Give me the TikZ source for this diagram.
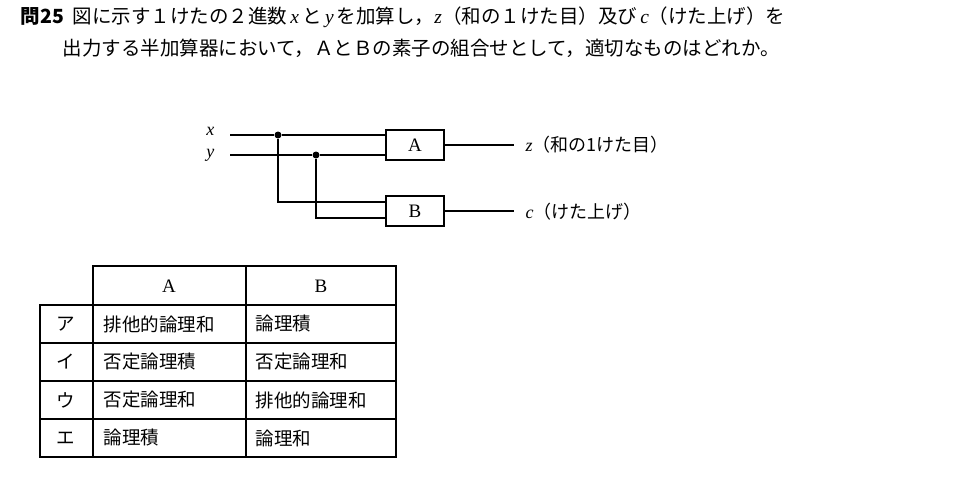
\documentclass[tikz,border=0pt]{standalone}
\usepackage{fontspec}
\usetikzlibrary{calc}
\setmainfont{Liberation Serif}
\newfontfamily\cjk{Noto Sans CJK JP}
\begin{document}
\begin{tikzpicture}[x=1pt,y=-1pt,line width=1.3pt,
  gate/.style={draw,minimum width=58pt,minimum height=30pt,inner sep=0pt,font=\fontsize{19}{19}\selectfont},
  lbl/.style={anchor=west,inner sep=0pt,font=\fontsize{19}{19}\selectfont},
  dot/.style={circle,fill,inner sep=0pt,minimum size=7pt},
  txt/.style={anchor=west,inner sep=0pt,font=\cjk\fontsize{19.5}{19.5}\selectfont},
  cell/.style={anchor=west,inner sep=0pt,font=\cjk\fontsize{18.5}{18.5}\selectfont}]
\useasboundingbox (0,0) rectangle (970,480);
\node[txt] (t1) at (20,17) {\textbf{問25}\ \ 図に示す１けたの２進数\,{\rmfamily\itshape x}\,と\,{\rmfamily\itshape y}\,を加算し，{\rmfamily\itshape z}（和の１けた目）及び\,{\rmfamily\itshape c}（けた上げ）を};
\node[txt] (t2) at (62,48) {出力する半加算器において，ＡとＢの素子の組合せとして，適切なものはどれか。};
% circuit
\node[gate] (A) at (415,145) {A};
\node[gate] (B) at (415,211) {B};
\node[lbl,font=\itshape\fontsize{18}{18}\selectfont,anchor=east] (x) at (215,131) {x};
\node[lbl,font=\itshape\fontsize{18}{18}\selectfont,anchor=east] (y) at (215,155) {y};
\coordinate (xs) at (230,135); \coordinate (ys) at (230,155);
\node[dot] (jx) at (278,135) {};
\node[dot] (jy) at (316,155) {};
\draw (xs) -- (jx) -- (A.west |- jx);
\draw (ys) -- (jy) -- (A.west |- jy);
\draw (jx) |- ($(B.west)+(0,-9)$);
\draw (jy) |- ($(B.west)+(0,7)$);
\coordinate (zo) at (514,145); \coordinate (co) at (514,211);
\draw (A.east) -- (zo);
\draw (B.east) -- (co);
\node[txt,font=\cjk\fontsize{18}{18}\selectfont] (zl) at (525,145) {{\rmfamily\itshape z}（和の1けた目）};
\node[txt,font=\cjk\fontsize{18}{18}\selectfont] (cl) at (525,212) {{\rmfamily\itshape c}（けた上げ）};
% table
\draw (40,305) rectangle (396,457);
\draw (93,266) rectangle (396,305);
\foreach \yy in {343,381,419} \draw (40,\yy) -- (396,\yy);
\draw (93,266) -- (93,457); \draw (246,266) -- (246,457);
\node[lbl,anchor=center] (hA) at (169,286) {A};
\node[lbl,anchor=center] (hB) at (321,286) {B};
\foreach \k/\yy/\a/\b in {ア/324/排他的論理和/論理積, イ/362/否定論理積/否定論理和, ウ/400/否定論理和/排他的論理和, エ/438/論理積/論理和}{
  \node[cell,anchor=center] at (66,\yy) {\k};
  \node[cell] at (103,\yy) {\a};
  \node[cell] at (255,\yy) {\b};
}
\end{tikzpicture}
\end{document}
